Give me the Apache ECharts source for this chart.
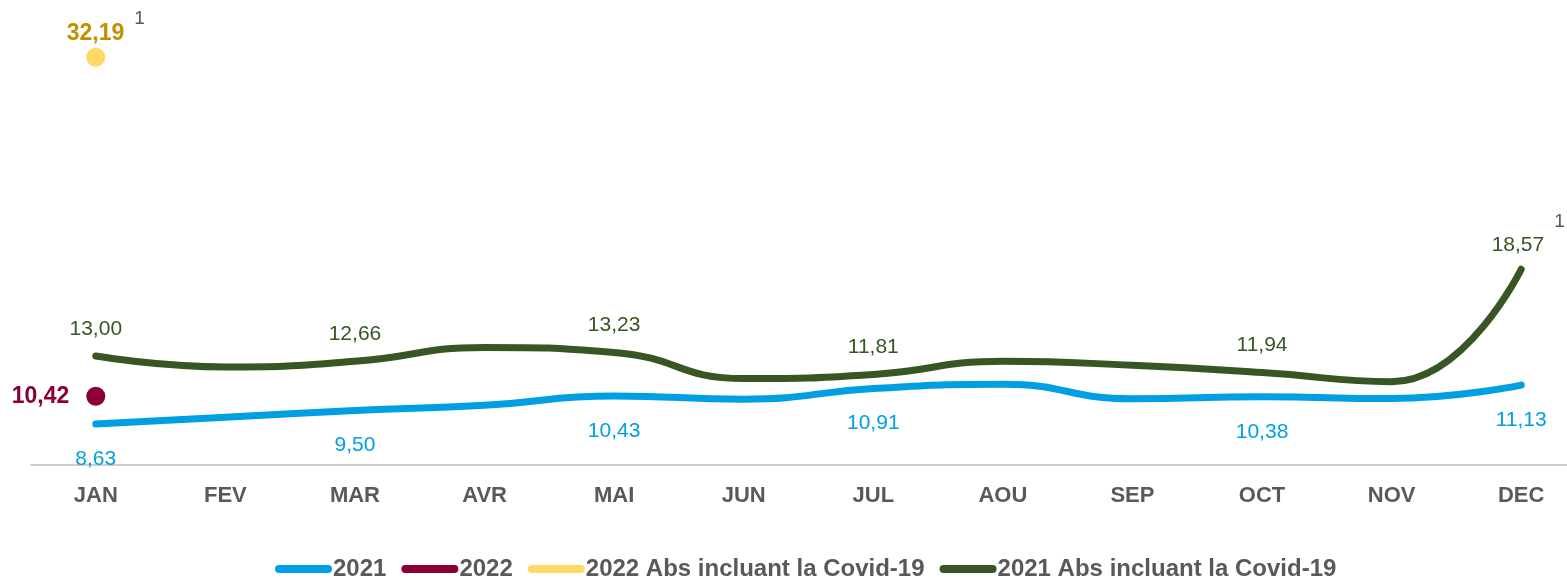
<!DOCTYPE html>
<html>
<head>
<meta charset="utf-8">
<title>Absentéisme mensuel</title>
<script src="https://cdn.jsdelivr.net/npm/echarts@6/dist/echarts.min.js"></script>
<style>
  html, body { margin: 0; padding: 0; background: #ffffff; }
  #chart { width: 1567px; height: 579px; }
</style>
</head>
<body>
<div id="chart"></div>
<script>
// Month labels on the category axis
const months = ['JAN', 'FEV', 'MAR', 'AVR', 'MAI', 'JUN', 'JUL', 'AOU', 'SEP', 'OCT', 'NOV', 'DEC'];

// Absence rates (%) per month
const abs2021 = [8.63, 9.07, 9.50, 9.84, 10.43, 10.23, 10.91, 11.19, 10.25, 10.38, 10.27, 11.13];
const abs2021Covid = [13.00, 12.30, 12.66, 13.55, 13.23, 11.55, 11.81, 12.66, 12.40, 11.94, 11.35, 18.57];
const abs2022 = [10.42, null, null, null, null, null, null, null, null, null, null, null];
const abs2022Covid = [32.19, null, null, null, null, null, null, null, null, null, null, null];

// Months whose value is printed on the 2021 curves
const labelledMonths = [0, 2, 4, 6, 9, 11];
// Months carrying footnote marker "1"
const footnoteMonths2021Covid = [11];

const FONT = "'Liberation Sans', Arial, sans-serif";
const fmt = v => v.toFixed(2).replace('.', ',');

const C_BLUE = '#009FE3';
const C_GREEN = '#375623';
const C_RED = '#8A0036';
const C_YELLOW = '#FFD966';
const C_GOLD = '#BF9000';
const C_GREY = '#595959';
const NONE = 'rgba(0,0,0,0)';

function lineData(values, withFootnote) {
  return values.map((v, i) => {
    const item = { value: v, label: { show: labelledMonths.includes(i) } };
    if (withFootnote && footnoteMonths2021Covid.includes(i)) {
      item.label = {
        show: true,
        formatter: p => '{v|' + fmt(p.value) + '}{s|1}',
        offset: [7, 26],
        rich: {
          v: { fontFamily: FONT, fontSize: 21, color: C_GREEN },
          s: { fontFamily: FONT, fontSize: 19, color: C_GREY, padding: [0, 0, 48, 10] }
        }
      };
    }
    return item;
  });
}

const chart = echarts.init(document.getElementById('chart'), null, { renderer: 'canvas' });

chart.setOption({
  animation: false,
  backgroundColor: '#ffffff',
  grid: { left: 31, width: 1555, top: 29, bottom: 114, containLabel: false, outerBoundsMode: 'none' },
  xAxis: {
    type: 'category',
    data: months,
    boundaryGap: true,
    axisLine: { show: true, lineStyle: { color: '#BFBFBF', width: 1.5 } },
    axisTick: { show: false },
    axisLabel: { fontFamily: FONT, fontSize: 22, fontWeight: 'bold', color: C_GREY, margin: 20 }
  },
  yAxis: {
    type: 'value',
    min: 6,
    max: 34,
    show: false,
    splitLine: { show: false }
  },
  legend: {
    top: 552,
    left: 270,
    itemWidth: 49,
    itemHeight: 8,
    itemGap: 15,
    lineStyle: { width: 8, cap: 'round' },
    textStyle: { fontFamily: FONT, fontSize: 24, fontWeight: 'bold', color: C_GREY },
    data: ['2021', '2022', '2022 Abs incluant la Covid-19', '2021 Abs incluant la Covid-19']
  },
  series: [
    {
      name: '2021',
      type: 'line',
      smooth: 0.5,
      data: lineData(abs2021, false),
      symbol: 'circle',
      symbolSize: 1,
      showSymbol: true,
      itemStyle: { color: NONE },
      lineStyle: { color: C_BLUE, width: 7, cap: 'round', join: 'round' },
      label: {
        position: 'bottom',
        distance: 24,
        fontFamily: FONT,
        fontSize: 21,
        color: C_BLUE,
        formatter: p => fmt(p.value)
      },
      z: 2
    },
    {
      name: '2022',
      type: 'line',
      data: abs2022,
      symbol: 'circle',
      symbolSize: 19,
      showSymbol: true,
      itemStyle: { color: C_RED },
      lineStyle: { color: C_RED, width: 7 },
      label: {
        show: true,
        position: 'left',
        distance: 17,
        fontFamily: FONT,
        fontSize: 23,
        fontWeight: 'bold',
        color: C_RED,
        formatter: p => fmt(p.value)
      },
      z: 4
    },
    {
      name: '2022 Abs incluant la Covid-19',
      type: 'line',
      data: abs2022Covid,
      symbol: 'circle',
      symbolSize: 19,
      showSymbol: true,
      itemStyle: { color: C_YELLOW },
      lineStyle: { color: C_YELLOW, width: 7 },
      label: {
        show: true,
        position: 'top',
        offset: [10, 14],
        formatter: p => '{v|' + fmt(p.value) + '}{s|1}',
        rich: {
          v: { fontFamily: FONT, fontSize: 23, fontWeight: 'bold', color: C_GOLD },
          s: { fontFamily: FONT, fontSize: 19, color: C_GREY, padding: [0, 0, 28, 10] }
        }
      },
      z: 4
    },
    {
      name: '2021 Abs incluant la Covid-19',
      type: 'line',
      smooth: 0.5,
      data: lineData(abs2021Covid, true),
      symbol: 'circle',
      symbolSize: 1,
      showSymbol: true,
      itemStyle: { color: NONE },
      lineStyle: { color: C_GREEN, width: 7, cap: 'round', join: 'round' },
      label: {
        position: 'top',
        distance: 16,
        fontFamily: FONT,
        fontSize: 21,
        color: C_GREEN,
        formatter: p => fmt(p.value)
      },
      z: 3
    }
  ]
});
</script>
</body>
</html>
